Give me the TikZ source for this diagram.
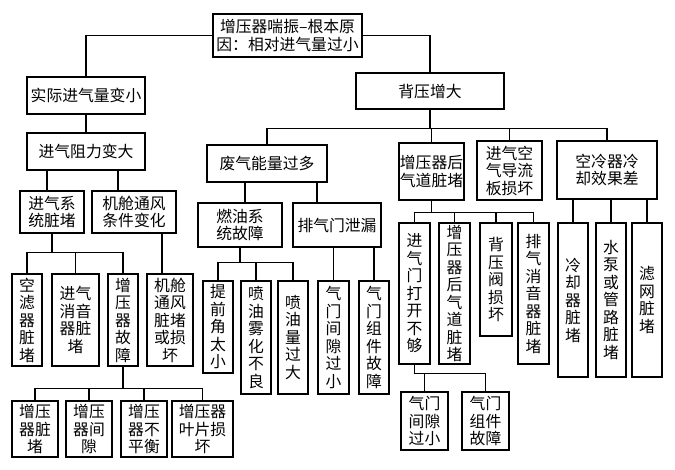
\documentclass[tikz,border=0pt]{standalone}
\usepackage{fontspec}
\newfontfamily\cjk{Noto Sans CJK SC}
\usetikzlibrary{calc}
\begin{document}
\begin{tikzpicture}[x=1pt,y=-1pt,font=\cjk\fontsize{15.8}{17.5}\selectfont,
  cell/.style={draw,line width=1.1pt,inner sep=0pt,align=center},
  link/.style={line width=1.1pt}]
\useasboundingbox[fill=white] (0,0) rectangle (675,470);
\node[cell,minimum width=149,minimum height=43] (root) at (287.5,35.5) {增压器喘振–根本原\\因：相对进气量过小};
\node[cell,minimum width=118,minimum height=37] (actual) at (86,95.5) {实际进气量变小};
\node[cell,minimum width=118,minimum height=37] (resist) at (86,151.5) {进气阻力变大};
\node[cell,minimum width=64,minimum height=42] (inlet) at (52,212) {进气系\\统脏堵};
\node[cell,minimum width=84,minimum height=42] (vent) at (134,212) {机舱通风\\条件变化};
\node[cell,minimum width=30,minimum height=92] (filter) at (27,320) {空\\滤\\器\\脏\\堵};
\node[cell,minimum width=47,minimum height=92] (silencer) at (75.5,320) {进气\\消音\\器脏\\堵};
\node[cell,minimum width=30,minimum height=92] (tcfault) at (123,320) {增\\压\\器\\故\\障};
\node[cell,minimum width=46,minimum height=92] (venterr) at (170,320) {机舱\\通风\\脏堵\\或损\\坏};
\node[cell,minimum width=46,minimum height=56] (tcdirty) at (35,429) {增压\\器脏\\堵};
\node[cell,minimum width=46,minimum height=56] (tcgap) at (89,429) {增压\\器间\\隙};
\node[cell,minimum width=46,minimum height=56] (tcbal) at (144,429) {增压\\器不\\平衡};
\node[cell,minimum width=61,minimum height=56] (tcblade) at (202.5,429) {增压器\\叶片损\\坏};
\node[cell,minimum width=148,minimum height=36] (back) at (430,91) {背压增大};
\node[cell,minimum width=120,minimum height=37] (waste) at (267,163.5) {废气能量过多};
\node[cell,minimum width=84,minimum height=44] (fuel) at (240,225) {燃油系\\统故障};
\node[cell,minimum width=88,minimum height=44] (exvalve) at (337,225) {排气门泄漏};
\node[cell,minimum width=30,minimum height=92] (timing) at (218,327) {提\\前\\角\\太\\小};
\node[cell,minimum width=30,minimum height=113] (atom) at (256,337.5) {喷\\油\\雾\\化\\不\\良};
\node[cell,minimum width=30,minimum height=113] (qty) at (293,337.5) {喷\\油\\量\\过\\大};
\node[cell,minimum width=31,minimum height=113] (gapA) at (333.5,337.5) {气\\门\\间\\隙\\过\\小};
\node[cell,minimum width=30,minimum height=113] (compA) at (374,337.5) {气\\门\\组\\件\\故\\障};
\node[cell,minimum width=65,minimum height=57] (after) at (431.5,171.5) {增压器后\\气道脏堵};
\node[cell,minimum width=65,minimum height=59] (guide) at (509.5,170.5) {进气空\\气导流\\板损坏};
\node[cell,minimum width=100,minimum height=58] (cooler) at (607,170) {空冷器冷\\却效果差};
\node[cell,minimum width=31,minimum height=141] (invalve) at (414.5,293.5) {进\\气\\门\\打\\开\\不\\够};
\node[cell,minimum width=31,minimum height=141] (afterB) at (454.5,293.5) {增\\压\\器\\后\\气\\道\\脏\\堵};
\node[cell,minimum width=32,minimum height=113] (bpvalve) at (496,279.5) {背\\压\\阀\\损\\坏};
\node[cell,minimum width=31,minimum height=141] (exsil) at (533.5,293.5) {排\\气\\消\\音\\器\\脏\\堵};
\node[cell,minimum width=30,minimum height=154] (coolB) at (573,300) {冷\\却\\器\\脏\\堵};
\node[cell,minimum width=30,minimum height=154] (pump) at (611,300) {水\\泵\\或\\管\\路\\脏\\堵};
\node[cell,minimum width=30,minimum height=154] (screen) at (647,300) {滤\\网\\脏\\堵};
\node[cell,minimum width=47,minimum height=58] (gapB) at (424.5,421) {气门\\间隙\\过小};
\node[cell,minimum width=47,minimum height=58] (compB) at (485.5,421) {气门\\组件\\故障};
\draw[link] (root.west) -| (actual.north);
\draw[link] (root.east) -| (back.north);
\draw[link] (actual.south) -- (resist.north);
\draw[link] ([xshift=-5]inlet.north) -- ([xshift=-5]inlet.north |- resist.south);
\draw[link] ([xshift=-16]vent.north) -- ([xshift=-16]vent.north |- resist.south);
\draw[link] ([xshift=-8]venterr.north) -- ([xshift=-8]venterr.north |- vent.south);
\draw[link] (inlet.south) -- ++(0,19) -| (filter.north);
\draw[link] (inlet.south) -- ++(0,19) -| (silencer.north);
\draw[link] (inlet.south) -- ++(0,19) -| (tcfault.north);
\draw[link] (tcfault.south) -- ++(0,22) -| (tcdirty.north);
\draw[link] (tcfault.south) -- ++(0,22) -| (tcgap.north);
\draw[link] (tcfault.south) -- ++(0,22) -| (tcbal.north);
\draw[link] (tcfault.south) -- ++(0,22) -| (tcblade.north);
\draw[link] (back.south) -- ++(0,19) -| (waste.north);
\draw[link] (back.south) -- ++(0,19) -| (after.north);
\draw[link] (back.south) -- ++(0,19) -| (guide.north);
\draw[link] (back.south) -- ++(0,19) -| (cooler.north);
\draw[link] ([xshift=-22]waste.south) -- ([xshift=5]fuel.north);
\draw[link] ([xshift=50]waste.south) -- ([xshift=-20]exvalve.north);
\draw[link] (fuel.south) -- ++(0,15) -| (timing.north);
\draw[link] (fuel.south) -- ++(0,15) -| (atom.north);
\draw[link] (fuel.south) -- ++(0,15) -| (qty.north);
\draw[link] (gapA.north) -- (gapA.north |- exvalve.south);
\draw[link] (compA.north) -- (compA.north |- exvalve.south);
\draw[link] (after.south) -- ++(0,12) -| (invalve.north);
\draw[link] (after.south) -- ++(0,12) -| (afterB.north);
\draw[link] (after.south) -- ++(0,12) -| (bpvalve.north);
\draw[link] (after.south) -- ++(0,12) -| (exsil.north);
\draw[link] (coolB.north) -- (coolB.north |- cooler.south);
\draw[link] (pump.north) -- (pump.north |- cooler.south);
\draw[link] (screen.north) -- (screen.north |- cooler.south);
\draw[link] (invalve.south) -- ++(0,9) -| (gapB.north);
\draw[link] (invalve.south) -- ++(0,9) -| (compB.north);
\end{tikzpicture}
\end{document}
